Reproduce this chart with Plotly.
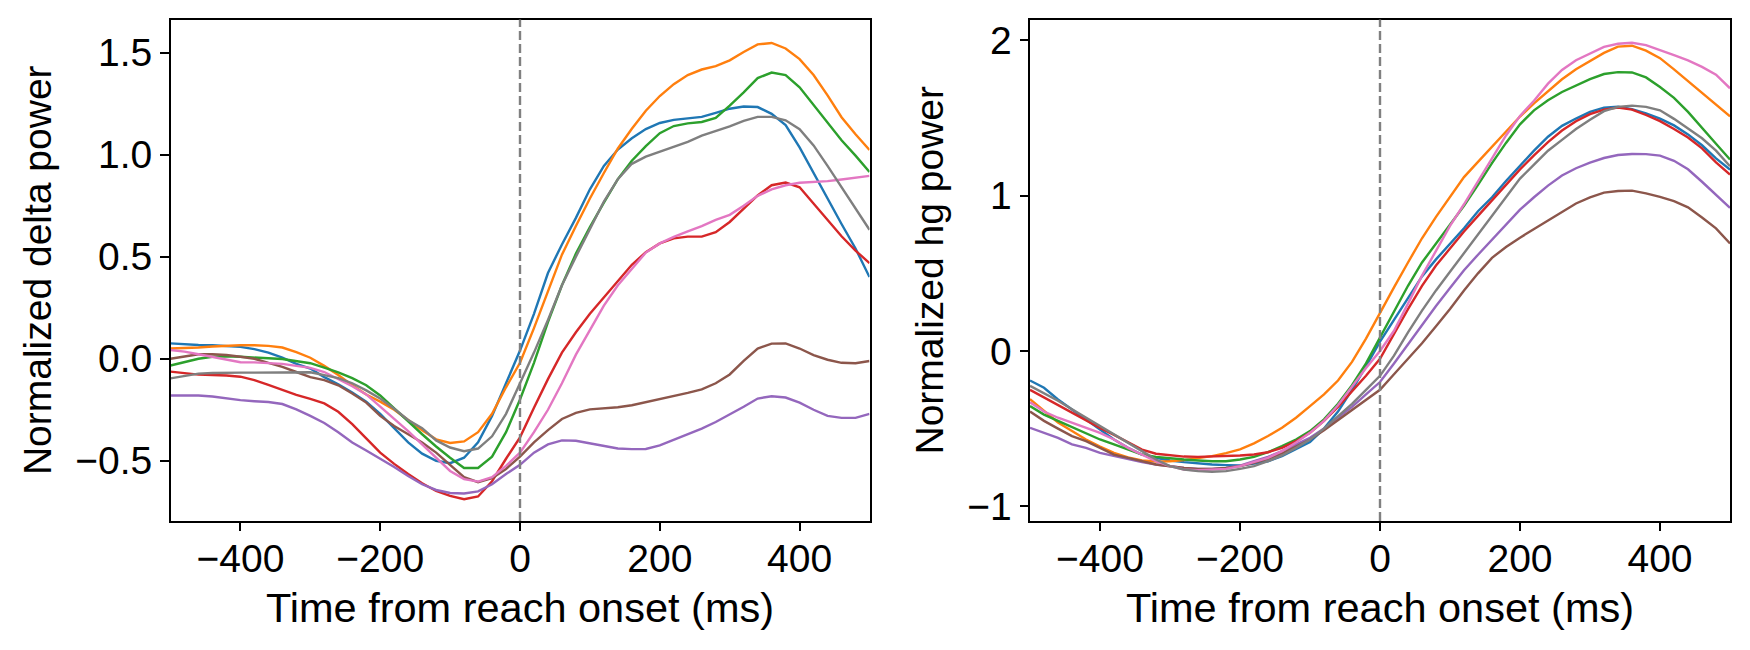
import plotly.graph_objects as go

time_ms = [-500, -480, -460, -440, -420, -400, -380, -360, -340, -320, -300, -280, -260,
           -240, -220, -200, -180, -160, -140, -120, -100, -80, -60, -40, -20, 0,
           20, 40, 60, 80, 100, 120, 140, 160, 180, 200, 220, 240, 260, 280, 300,
           320, 340, 360, 380, 400, 420, 440, 460, 480, 500]

# ---- Normalized delta power (left panel) ----
delta_blue = [0.075, 0.07, 0.067, 0.066, 0.063, 0.058, 0.047, 0.03, 0.005, -0.025,
              -0.048, -0.09, -0.125, -0.165, -0.21, -0.27, -0.34, -0.41, -0.465, -0.5,
              -0.512, -0.485, -0.41, -0.28, -0.12, 0.04,
              0.22, 0.42, 0.56, 0.69, 0.83, 0.945, 1.025, 1.08, 1.125, 1.155,
              1.17, 1.178, 1.185, 1.205, 1.225, 1.236, 1.233, 1.2, 1.145, 1.035,
              0.91, 0.78, 0.66, 0.54, 0.4]
delta_orange = [0.05, 0.052, 0.055, 0.06, 0.064, 0.066, 0.066, 0.063, 0.055, 0.032,
                0.005, -0.035, -0.08, -0.13, -0.175, -0.21, -0.25, -0.3, -0.35, -0.395,
                -0.413, -0.405, -0.36, -0.27, -0.14, -0.02,
                0.15, 0.33, 0.51, 0.65, 0.785, 0.91, 1.03, 1.127, 1.215, 1.287,
                1.345, 1.39, 1.417, 1.434, 1.462, 1.503, 1.54, 1.547, 1.52, 1.468,
                1.39, 1.29, 1.183, 1.1, 1.023]
delta_green = [-0.033, -0.015, 0.0, 0.01, 0.012, 0.01, 0.005, 0.002, -0.001, -0.01,
               -0.022, -0.044, -0.067, -0.095, -0.13, -0.18, -0.245, -0.31, -0.37, -0.43,
               -0.485, -0.535, -0.535, -0.48, -0.36, -0.2,
               -0.02, 0.18, 0.36, 0.515, 0.645, 0.765, 0.88, 0.97, 1.042, 1.105,
               1.14, 1.153, 1.16, 1.18, 1.24, 1.305, 1.375, 1.402, 1.39, 1.33,
               1.245, 1.155, 1.07, 0.995, 0.915]
delta_red = [-0.063, -0.072, -0.078, -0.08, -0.082, -0.088, -0.105, -0.128, -0.152, -0.177,
             -0.197, -0.219, -0.26, -0.32, -0.39, -0.46, -0.515, -0.565, -0.61, -0.648,
             -0.672, -0.688, -0.675, -0.6, -0.49, -0.385,
             -0.24, -0.1, 0.03, 0.13, 0.22, 0.3, 0.38, 0.46, 0.522, 0.565,
             0.59, 0.598, 0.598, 0.62, 0.67, 0.735, 0.8, 0.85, 0.863, 0.84,
             0.76, 0.675, 0.6, 0.53, 0.468]
delta_purple = [-0.18, -0.18, -0.18, -0.185, -0.195, -0.203, -0.208, -0.212, -0.222, -0.248,
                -0.28, -0.315, -0.36, -0.41, -0.45, -0.49, -0.53, -0.575, -0.615, -0.643,
                -0.658, -0.66, -0.65, -0.615, -0.565, -0.52,
                -0.46, -0.42, -0.4, -0.402, -0.415, -0.428, -0.44, -0.443, -0.442, -0.425,
                -0.398, -0.37, -0.342, -0.31, -0.274, -0.235, -0.195, -0.184, -0.19, -0.215,
                -0.25, -0.28, -0.29, -0.29, -0.27]
delta_brown = [0.0, 0.012, 0.022, 0.022, 0.018, 0.01, 0.0, -0.02, -0.04, -0.065,
               -0.09, -0.105, -0.13, -0.17, -0.215, -0.28, -0.33, -0.37, -0.41, -0.46,
               -0.52, -0.58, -0.605, -0.585, -0.54, -0.48,
               -0.41, -0.35, -0.295, -0.265, -0.248, -0.242, -0.238, -0.228, -0.213, -0.198,
               -0.185, -0.167, -0.15, -0.12, -0.077, -0.01, 0.05, 0.074, 0.075, 0.05,
               0.018, -0.005, -0.02, -0.022, -0.011]
delta_pink = [0.043, 0.035, 0.022, 0.01, -0.005, -0.017, -0.018, -0.02, -0.025, -0.035,
              -0.045, -0.065, -0.1, -0.135, -0.175, -0.233, -0.295, -0.355, -0.42, -0.48,
              -0.55, -0.59, -0.602, -0.58, -0.525, -0.46,
              -0.36, -0.25, -0.12, 0.02, 0.14, 0.26, 0.36, 0.44, 0.52, 0.565,
              0.597, 0.624, 0.65, 0.68, 0.705, 0.75, 0.798, 0.83, 0.85, 0.862,
              0.866, 0.87, 0.878, 0.886, 0.896]
delta_gray = [-0.096, -0.085, -0.073, -0.07, -0.068, -0.068, -0.068, -0.068, -0.068, -0.066,
              -0.066, -0.08, -0.095, -0.12, -0.155, -0.195, -0.245, -0.3, -0.34, -0.4,
              -0.435, -0.453, -0.44, -0.38, -0.27, -0.12,
              0.03, 0.19, 0.36, 0.5, 0.635, 0.77, 0.88, 0.955, 0.99, 1.015,
              1.037, 1.063, 1.093, 1.115, 1.138, 1.165, 1.185, 1.185, 1.168, 1.125,
              1.045, 0.945, 0.84, 0.735, 0.632]

# ---- Normalized hg power (right panel) ----
hg_blue = [-0.19, -0.237, -0.312, -0.376, -0.441, -0.505, -0.57, -0.624, -0.667, -0.688,
           -0.705, -0.716, -0.725, -0.731, -0.735, -0.738, -0.725, -0.71, -0.677, -0.634,
           -0.587, -0.5, -0.39, -0.25, -0.1, 0.06,
           0.2, 0.34, 0.48, 0.59, 0.69, 0.79, 0.9, 0.99, 1.095, 1.195,
           1.29, 1.38, 1.45, 1.497, 1.54, 1.567, 1.574, 1.558, 1.53, 1.497,
           1.453, 1.395, 1.325, 1.24, 1.168]
hg_orange = [-0.31, -0.385, -0.46, -0.515, -0.57, -0.615, -0.656, -0.685, -0.705, -0.712,
             -0.71, -0.703, -0.692, -0.677, -0.658, -0.634, -0.595, -0.548, -0.495, -0.43,
             -0.355, -0.28, -0.19, -0.07, 0.08, 0.25,
             0.41, 0.57, 0.726, 0.864, 0.996, 1.12, 1.218, 1.315, 1.415, 1.51,
             1.595, 1.675, 1.75, 1.815, 1.87, 1.92, 1.96, 1.966, 1.934, 1.886,
             1.814, 1.738, 1.66, 1.583, 1.511]
hg_green = [-0.355, -0.41, -0.45, -0.49, -0.527, -0.57, -0.602, -0.634, -0.667, -0.682,
            -0.692, -0.699, -0.705, -0.71, -0.71, -0.699, -0.682, -0.652, -0.613, -0.57,
            -0.516, -0.44, -0.34, -0.22, -0.08, 0.09,
            0.255, 0.42, 0.57, 0.69, 0.815, 0.935, 1.07, 1.21, 1.34, 1.46,
            1.55, 1.615, 1.668, 1.712, 1.751, 1.784, 1.796, 1.794, 1.762, 1.7,
            1.63, 1.54, 1.435, 1.335, 1.233]
hg_red = [-0.25, -0.3, -0.35, -0.4, -0.45, -0.495, -0.54, -0.59, -0.635, -0.662,
          -0.673, -0.68, -0.682, -0.68, -0.677, -0.673, -0.667, -0.652, -0.624, -0.581,
          -0.527, -0.45, -0.36, -0.26, -0.16, -0.05,
          0.11, 0.27, 0.42, 0.55, 0.66, 0.77, 0.87, 0.97, 1.07, 1.17,
          1.26, 1.345, 1.42, 1.48, 1.525, 1.555, 1.568, 1.555, 1.52, 1.48,
          1.43, 1.375, 1.305, 1.215, 1.136]
hg_purple = [-0.495, -0.53, -0.56, -0.602, -0.624, -0.656, -0.677, -0.699, -0.716, -0.731,
             -0.742, -0.753, -0.759, -0.759, -0.753, -0.738, -0.71, -0.682, -0.645, -0.602,
             -0.559, -0.5, -0.43, -0.36, -0.28, -0.2,
             -0.08, 0.045, 0.165, 0.29, 0.405, 0.52, 0.62, 0.715, 0.815, 0.91,
             0.99, 1.065, 1.13, 1.177, 1.213, 1.243, 1.262, 1.269, 1.268, 1.258,
             1.225, 1.17, 1.09, 1.005, 0.922]
hg_brown = [-0.39, -0.45, -0.5, -0.548, -0.581, -0.624, -0.667, -0.688, -0.71, -0.731,
            -0.742, -0.753, -0.759, -0.759, -0.753, -0.742, -0.72, -0.695, -0.66, -0.617,
            -0.57, -0.51, -0.445, -0.38, -0.31, -0.25,
            -0.15, -0.05, 0.05, 0.16, 0.27, 0.39, 0.5, 0.6, 0.67, 0.73,
            0.785, 0.84, 0.9, 0.95, 0.99, 1.02, 1.03, 1.033, 1.015, 0.993,
            0.965, 0.925, 0.86, 0.79, 0.693]
hg_pink = [-0.33, -0.39, -0.43, -0.462, -0.495, -0.527, -0.57, -0.624, -0.667, -0.71,
           -0.742, -0.763, -0.768, -0.765, -0.759, -0.742, -0.716, -0.688, -0.645, -0.59,
           -0.527, -0.45, -0.35, -0.23, -0.11, 0.0,
           0.13, 0.305, 0.485, 0.645, 0.806, 0.945, 1.093, 1.247, 1.388, 1.514,
           1.612, 1.722, 1.81, 1.873, 1.918, 1.959, 1.979, 1.985, 1.97, 1.94,
           1.905, 1.872, 1.83, 1.78, 1.692]
hg_gray = [-0.225, -0.27, -0.32, -0.375, -0.43, -0.484, -0.538, -0.591, -0.645, -0.699,
           -0.742, -0.763, -0.774, -0.778, -0.774, -0.759, -0.742, -0.71, -0.673, -0.624,
           -0.57, -0.5, -0.42, -0.34, -0.25, -0.16,
           -0.03, 0.12, 0.26, 0.39, 0.51, 0.63, 0.75, 0.87, 0.995, 1.11,
           1.2, 1.29, 1.36, 1.43, 1.49, 1.545, 1.572, 1.58, 1.572, 1.55,
           1.495, 1.43, 1.37, 1.29, 1.19]

series_colors = ["#1f77b4", "#ff7f0e", "#2ca02c", "#d62728",
                 "#9467bd", "#8c564b", "#e377c2", "#7f7f7f"]
delta_series = [delta_blue, delta_orange, delta_green, delta_red,
                delta_purple, delta_brown, delta_pink, delta_gray]
hg_series = [hg_blue, hg_orange, hg_green, hg_red,
             hg_purple, hg_brown, hg_pink, hg_gray]

x_tickvals = [-400, -200, 0, 200, 400]
x_ticktext = ["\u2212400", "\u2212200", "0", "200", "400"]
delta_tickvals = [-0.5, 0.0, 0.5, 1.0, 1.5]
delta_ticktext = ["\u22120.5", "0.0", "0.5", "1.0", "1.5"]
hg_tickvals = [-1, 0, 1, 2]
hg_ticktext = ["\u22121", "0", "1", "2"]

x_title = "Time from reach onset (ms)"
delta_title = "Normalized delta power"
hg_title = "Normalized hg power"

W, H = 1750, 650
FONT = "Liberation Sans, Arial, Helvetica, sans-serif"
FS = 39
FS_XT = 41.5

fig = go.Figure()
for ys, c in zip(delta_series, series_colors):
    fig.add_trace(go.Scatter(x=time_ms, y=ys, mode="lines", xaxis="x", yaxis="y",
                             line=dict(color=c, width=2.4), showlegend=False,
                             hoverinfo="skip"))
for ys, c in zip(hg_series, series_colors):
    fig.add_trace(go.Scatter(x=time_ms, y=ys, mode="lines", xaxis="x2", yaxis="y2",
                             line=dict(color=c, width=2.4), showlegend=False,
                             hoverinfo="skip"))

common_axis = dict(showline=True, linecolor="black", linewidth=1.9, mirror=True,
                   ticks="outside", ticklen=8.5, tickwidth=1.9, tickcolor="black",
                   showgrid=False, zeroline=False, automargin=False,
                   tickfont=dict(family=FONT, size=FS, color="black"))

ydom = [1 - 521 / H, 1 - 19.5 / H]
fig.update_layout(
    width=W, height=H,
    margin=dict(l=0, r=0, t=0, b=0),
    paper_bgcolor="white", plot_bgcolor="white",
    font=dict(family=FONT, size=FS, color="black"),
    xaxis=dict(domain=[170.5 / W, 869.5 / W], range=[-500, 500], anchor="y",
               tickvals=x_tickvals, ticktext=x_ticktext, ticklabelstandoff=-6,
               title=dict(text=x_title, standoff=14, font=dict(family=FONT, size=FS_XT)),
               **common_axis),
    yaxis=dict(domain=ydom, range=[-0.795, 1.662], anchor="x",
               tickvals=delta_tickvals, ticktext=delta_ticktext,
               title=dict(text=delta_title, standoff=12, font=dict(family=FONT, size=FS)),
               **common_axis),
    xaxis2=dict(domain=[1030 / W, 1730 / W], range=[-500, 500], anchor="y2",
                tickvals=x_tickvals, ticktext=x_ticktext, ticklabelstandoff=-6,
                title=dict(text=x_title, standoff=14, font=dict(family=FONT, size=FS_XT)),
                **common_axis),
    yaxis2=dict(domain=ydom, range=[-1.095, 2.135], anchor="x2",
                tickvals=hg_tickvals, ticktext=hg_ticktext,
                title=dict(text=hg_title, standoff=12, font=dict(family=FONT, size=FS)),
                **common_axis),
)

for xr, yr in (("x", "y domain"), ("x2", "y2 domain")):
    fig.add_shape(type="line", xref=xr, yref=yr, x0=0, x1=0, y0=0, y1=1,
                  line=dict(color="#808080", width=2.4, dash="9px,4px"), layer="above")

fig.write_html("out.html", config={"displayModeBar": False})
